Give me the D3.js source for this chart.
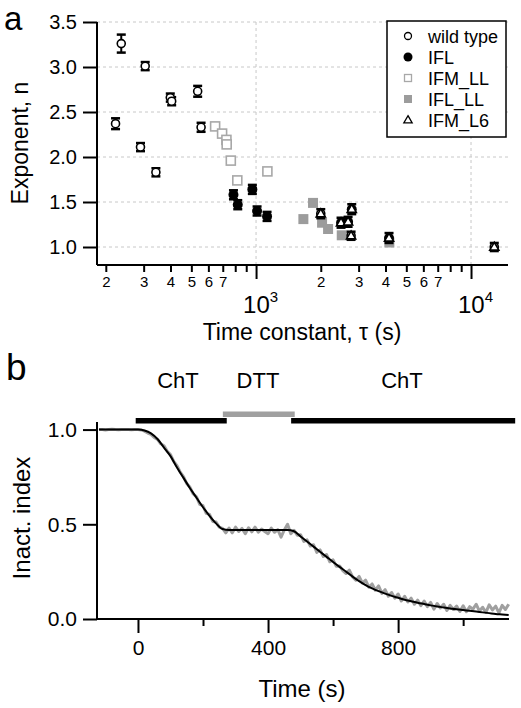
<!DOCTYPE html>
<html><head><meta charset="utf-8">
<script src="https://cdn.jsdelivr.net/npm/d3@7"></script>
<style>
html,body{margin:0;padding:0;background:#fff;}
svg{display:block;font-family:"Liberation Sans",Arial,Helvetica,sans-serif;}
</style></head>
<body>
<svg id="c" width="521" height="708"></svg>
<script>
// ---------- Panel a data ----------
const wtTau = [236, 222, 305, 290, 342, 399, 405, 535, 555, 2000, 2767, 12830];
const wtN   = [3.26, 2.37, 3.01, 2.11, 1.83, 2.66, 2.62, 2.73, 2.33, 1.37, 1.125, 1.0];
const wtErr = [0.10, 0.06, 0.045, 0.045, 0.045, 0.045, 0.045, 0.06, 0.05, 0.05, 0.045, 0.045];

const iflTau = [785, 822, 961, 1011, 1125, 2787, 2485, 2680, 4155];
const iflN   = [1.58, 1.47, 1.64, 1.40, 1.34, 1.42, 1.27, 1.28, 1.10];
const iflErr = [0.05, 0.05, 0.05, 0.05, 0.05, 0.055, 0.055, 0.055, 0.055];

const ifmllTau = [645, 695, 728, 730, 763, 818, 1129];
const ifmllN   = [2.34, 2.26, 2.19, 2.14, 1.96, 1.74, 1.84];

const ifllTau = [1841, 1660, 2028, 2163, 2504, 4170];
const ifllN   = [1.49, 1.31, 1.27, 1.20, 1.13, 1.05];

const l6Tau = [2000, 2787, 2485, 2680, 2767, 4155, 12830];
const l6N   = [1.37, 1.42, 1.27, 1.28, 1.125, 1.10, 1.0];

const legendLabels = ["wild type", "IFL", "IFM_LL", "IFL_LL", "IFM_L6"];
const yTicksA = [1.0, 1.5, 2.0, 2.5, 3.0, 3.5];
const xMinorA = [200,300,400,500,600,700,800,900,2000,3000,4000,5000,6000,7000,8000,9000];
const xMinorLabels = {200:"2",300:"3",400:"4",500:"5",600:"6",700:"7",2000:"2",3000:"3",4000:"4",5000:"5",6000:"6",7000:"7"};
const xMajorA = [1000, 10000];
const xMajorExp = ["3", "4"];

// ---------- Panel b data ----------
const greyT = d3.range(-120, 1141, 10);
const greyV = [1.0,1.0,0.998,1.0,1.002,1.0,0.999,1.0,1.001,1.0,0.999,1.0,1.0,
 0.998,0.992,0.982,0.975,0.958,0.948,0.925,0.915,0.885,0.868,0.832,0.81,0.775,0.752,0.715,0.695,0.66,0.645,0.605,0.598,0.558,0.552,0.515,0.512,0.485,0.478,0.455,
 0.48,0.455,0.485,0.462,0.478,0.45,0.482,0.46,0.485,0.458,0.475,0.462,0.45,0.48,0.458,0.472,0.432,0.47,0.5,0.45,
 0.468,0.442,0.445,0.41,0.418,0.385,0.392,0.352,0.365,0.33,0.34,0.302,0.312,0.278,0.28,0.255,0.24,0.258,0.222,0.205,0.225,0.19,0.205,0.168,0.185,0.152,0.175,0.135,0.155,0.12,0.14,0.11,0.132,0.095,0.12,0.09,0.11,0.078,0.1,0.07,0.095,0.065,0.088,0.052,0.082,0.058,0.078,0.045,0.072,0.05,0.068,0.04,0.07,0.038,0.065,0.052,0.078,0.042,0.062,0.035,0.075,0.048,0.068,0.032,0.072,0.05,0.078];
const fitT = d3.range(-120, 1141, 20);
const fitV = [1.0,1.0,1.0,1.0,1.0,1.0,1.0,0.995,0.98,0.95,0.905,0.86,0.80,0.745,0.69,0.64,0.59,0.545,0.505,0.475,
 0.47,0.47,0.47,0.47,0.47,0.47,0.47,0.47,0.47,0.47,0.463,0.436,0.409,0.382,0.355,0.328,0.301,0.275,0.25,0.224,0.20,0.179,0.162,0.147,0.134,0.122,0.112,0.102,0.094,0.086,0.079,0.072,0.066,0.061,0.056,0.051,0.047,0.043,0.039,0.035,0.031,0.027,0.024,0.021];
const bars = [{label:"ChT", start:-7, end:273, color:"#000", lane:0},
              {label:"DTT", start:261, end:482, color:"#a0a0a0", lane:1},
              {label:"ChT", start:471, end:1160, color:"#000", lane:0}];
const labelX = [178, 258, 402];
const yTicksB = [0, 0.5, 1.0];
const xTicksB = [0, 400, 800];
const xMinorB = [200, 600, 1000];

const svg = d3.select("#c");

// ================= Panel a =================
const xa = d3.scaleLog().domain([182, 14860]).range([97, 508]);
const ya = d3.scaleLinear().domain([0.8, 3.5]).range([265, 22]);

const ga = svg.append("g");
// grid
ga.selectAll("line.hg").data(yTicksA).enter().append("line")
  .attr("x1", 97).attr("x2", 508).attr("y1", d=>ya(d)).attr("y2", d=>ya(d))
  .attr("stroke", "#c8c8c8").attr("stroke-width", 1).attr("stroke-dasharray", "3,3");
ga.selectAll("line.vg").data(xMajorA).enter().append("line")
  .attr("x1", d=>xa(d)).attr("x2", d=>xa(d)).attr("y1", 22).attr("y2", 265)
  .attr("stroke", "#c8c8c8").attr("stroke-width", 1).attr("stroke-dasharray", "3,3");

// axes
const yAxA = d3.axisLeft(ya).tickValues(yTicksA).tickFormat(d3.format(".1f")).tickSize(14).tickSizeOuter(0).tickPadding(6);
const gy = ga.append("g").attr("transform", "translate(97,0)").call(yAxA);
gy.select(".domain").attr("d", "M0,22V265").attr("stroke-width", 2);
gy.selectAll(".tick line").attr("stroke-width", 2);
gy.selectAll(".tick text").attr("font-size", 20).attr("font-family", "Liberation Sans, Arial, sans-serif").attr("fill","#000");

const xAxMinor = d3.axisBottom(xa).tickValues(xMinorA).tickFormat(d=>xMinorLabels[d]||"").tickSize(7).tickSizeOuter(0).tickPadding(4);
const gx = ga.append("g").attr("transform", "translate(0,265)").call(xAxMinor);
gx.select(".domain").attr("d", "M97,0H508").attr("stroke-width", 2);
gx.selectAll(".tick line").attr("stroke-width", 2);
gx.selectAll(".tick text").attr("font-size", 15).attr("font-family", "Liberation Sans, Arial, sans-serif").attr("fill","#000");
const xAxMajor = d3.axisBottom(xa).tickValues(xMajorA).tickFormat("").tickSize(14).tickSizeOuter(0);
const gx2 = ga.append("g").attr("transform", "translate(0,265)").call(xAxMajor);
gx2.select(".domain").remove();
gx2.selectAll(".tick line").attr("stroke-width", 2);
xMajorA.forEach((v,i)=>{
  const t = ga.append("text").attr("x", xa(v)-13).attr("y", 313).attr("font-size", 24);
  t.append("tspan").text("10");
  t.append("tspan").attr("font-size", 15).attr("dy", -11).text(xMajorExp[i]);
});

ga.append("text").attr("x", 302).attr("y", 340).attr("text-anchor", "middle").attr("font-size", 23).text("Time constant, \u03C4 (s)");
ga.append("text").attr("transform", "translate(28,143) rotate(-90)").attr("text-anchor", "middle").attr("font-size", 23).text("Exponent, n");
svg.append("text").attr("x", 4).attr("y", 30).attr("font-size", 33).text("a");

// markers
const sq = 9;
// IFL_LL filled grey squares
ga.selectAll("rect.ifll").data(ifllTau).enter().append("rect")
  .attr("x", d=>xa(d)-5).attr("y", (d,i)=>ya(ifllN[i])-5).attr("width", 10).attr("height", 10)
  .attr("fill", "#9c9c9c");
// IFM_LL open grey squares
ga.selectAll("rect.ifmll").data(ifmllTau).enter().append("rect")
  .attr("x", d=>xa(d)-4.5).attr("y", (d,i)=>ya(ifmllN[i])-4.5).attr("width", sq).attr("height", sq)
  .attr("fill", "#fff").attr("stroke", "#a8a8a8").attr("stroke-width", 1.6);

function errBars(tau, n, err){
  const g = ga.append("g");
  tau.forEach((t,i)=>{
    const x = xa(t), y1 = ya(n[i]+err[i]), y2 = ya(n[i]-err[i]);
    g.append("line").attr("x1",x).attr("x2",x).attr("y1",y1).attr("y2",y2).attr("stroke","#000").attr("stroke-width",2);
    g.append("line").attr("x1",x-4.5).attr("x2",x+4.5).attr("y1",y1).attr("y2",y1).attr("stroke","#000").attr("stroke-width",2.5);
    g.append("line").attr("x1",x-4.5).attr("x2",x+4.5).attr("y1",y2).attr("y2",y2).attr("stroke","#000").attr("stroke-width",2.5);
  });
}
// IFL filled black circles
errBars(iflTau, iflN, iflErr);
ga.selectAll("circle.ifl").data(iflTau).enter().append("circle")
  .attr("cx", d=>xa(d)).attr("cy", (d,i)=>ya(iflN[i])).attr("r", 5).attr("fill", "#000");
// wild type
errBars(wtTau, wtN, wtErr);
ga.selectAll("circle.wt").data(wtTau).enter().append("circle")
  .attr("cx", d=>xa(d)).attr("cy", (d,i)=>ya(wtN[i])).attr("r", 4)
  .attr("fill", "#fff").attr("stroke", "#000").attr("stroke-width", 1.6);
// IFM_L6 triangles
const tri = d3.symbol().type(d3.symbolTriangle).size(36);
ga.selectAll("path.l6").data(l6Tau).enter().append("path")
  .attr("d", tri).attr("transform", (d,i)=>`translate(${xa(d)},${ya(l6N[i])+0.5})`)
  .attr("fill", "#fff").attr("stroke", "#000").attr("stroke-width", 1.6);

// legend
const lg = ga.append("g");
lg.append("rect").attr("x", 387).attr("y", 21).attr("width", 119).attr("height", 116)
  .attr("fill", "#fff").attr("stroke", "#000").attr("stroke-width", 1.5);
const ly = [36, 57, 78, 99, 120];
legendLabels.forEach((lab,i)=>{
  lg.append("text").attr("x", 428).attr("y", ly[i]+6.5).attr("font-size", 18).text(lab);
});
lg.append("circle").attr("cx", 408).attr("cy", ly[0]).attr("r", 3.5).attr("fill","#fff").attr("stroke","#000").attr("stroke-width",1.3);
lg.append("circle").attr("cx", 408).attr("cy", ly[1]).attr("r", 4.5).attr("fill","#000");
lg.append("rect").attr("x", 404.5).attr("y", ly[2]-3.5).attr("width", 7).attr("height", 7).attr("fill","#fff").attr("stroke","#a8a8a8").attr("stroke-width",1.3);
lg.append("rect").attr("x", 404).attr("y", ly[3]-4).attr("width", 8).attr("height", 8).attr("fill","#9c9c9c");
lg.append("path").attr("d", d3.symbol().type(d3.symbolTriangle).size(30)).attr("transform", `translate(408,${ly[4]+0.5})`).attr("fill","#fff").attr("stroke","#000").attr("stroke-width",1.3);

// ================= Panel b =================
const xb = d3.scaleLinear().domain([-126, 1141]).range([97, 509]);
const yb = d3.scaleLinear().domain([0, 1.04]).range([619, 422]);
const gb = svg.append("g");

const yAxB = d3.axisLeft(yb).tickValues(yTicksB).tickFormat(d3.format(".1f")).tickSize(14).tickSizeOuter(0).tickPadding(6);
const gyb = gb.append("g").attr("transform", "translate(97,0)").call(yAxB);
gyb.select(".domain").attr("d", "M0,422V619").attr("stroke-width", 2);
gyb.selectAll(".tick line").attr("stroke-width", 2);
gyb.selectAll(".tick text").attr("font-size", 21).attr("font-family", "Liberation Sans, Arial, sans-serif").attr("fill","#000");

const xAxB = d3.axisBottom(xb).tickValues(xTicksB).tickFormat(d3.format("d")).tickSize(14).tickSizeOuter(0).tickPadding(7);
const gxb = gb.append("g").attr("transform", "translate(0,619)").call(xAxB);
gxb.select(".domain").attr("d", "M97,0H509").attr("stroke-width", 2);
gxb.selectAll(".tick line").attr("stroke-width", 2);
gxb.selectAll(".tick text").attr("font-size", 21).attr("font-family", "Liberation Sans, Arial, sans-serif").attr("fill","#000");
const xAxBm = d3.axisBottom(xb).tickValues(xMinorB).tickFormat("").tickSize(7).tickSizeOuter(0);
const gxbm = gb.append("g").attr("transform", "translate(0,619)").call(xAxBm);
gxbm.select(".domain").remove();
gxbm.selectAll(".tick line").attr("stroke-width", 2);

// bars
const laneY = [418, 411.5];
gb.selectAll("rect.bar").data(bars).enter().append("rect")
  .attr("x", d=>xb(d.start)).attr("width", d=>xb(d.end)-xb(d.start))
  .attr("y", d=>laneY[d.lane]).attr("height", 5.5).attr("fill", d=>d.color);
gb.selectAll("text.bl").data(bars).enter().append("text")
  .attr("x", (d,i)=>labelX[i]).attr("y", 388).attr("text-anchor","middle").attr("font-size", 22).text(d=>d.label);

// lines
const lineGrey = d3.line().x((d,i)=>xb(greyT[i])).y(d=>yb(d)).curve(d3.curveLinear);
gb.append("path").datum(greyV).attr("d", lineGrey).attr("fill","none").attr("stroke","#a0a0a0").attr("stroke-width",3).attr("stroke-linejoin","round");
const lineFit = d3.line().x((d,i)=>xb(fitT[i])).y(d=>yb(d)).curve(d3.curveMonotoneX);
gb.append("path").datum(fitV).attr("d", lineFit).attr("fill","none").attr("stroke","#000").attr("stroke-width",2);

gb.append("text").attr("x", 302).attr("y", 697).attr("text-anchor","middle").attr("font-size", 24).text("Time (s)");
gb.append("text").attr("transform","translate(30,518) rotate(-90)").attr("text-anchor","middle").attr("font-size", 24).text("Inact. index");
svg.append("text").attr("x", 6).attr("y", 380).attr("font-size", 37).text("b");
</script>
</body></html>
